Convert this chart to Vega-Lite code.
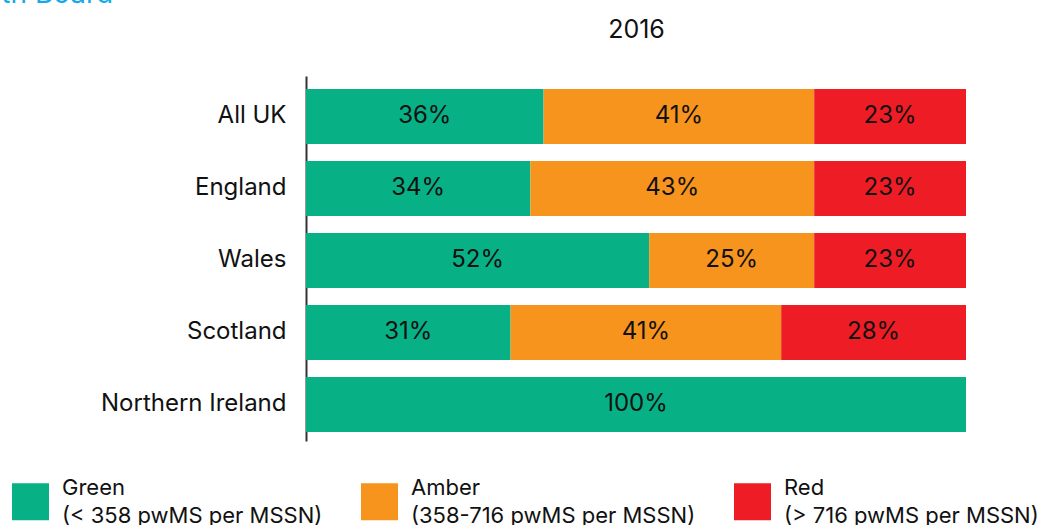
{
  "$schema": "https://vega.github.io/schema/vega-lite/v6.json",
  "width": 660,
  "height": 365,
  "autosize": {"type": "none"},
  "padding": {"left": 306, "top": 76, "right": 86, "bottom": 84},
  "background": "white",
  "title": {
    "text": "Health Board",
    "anchor": "start",
    "frame": "group",
    "dx": -365,
    "dy": -4,
    "fontSize": 28,
    "fontWeight": "normal",
    "font": "Inter",
    "color": "#17a9e5"
  },
  "config": {
    "view": {"stroke": null},
    "font": "Inter"
  },
  "data": {
    "values": [
      {"region": "All UK", "rating": "Green", "ord": 1, "pct": 0.36},
      {"region": "All UK", "rating": "Amber", "ord": 2, "pct": 0.41},
      {"region": "All UK", "rating": "Red", "ord": 3, "pct": 0.23},
      {"region": "England", "rating": "Green", "ord": 1, "pct": 0.34},
      {"region": "England", "rating": "Amber", "ord": 2, "pct": 0.43},
      {"region": "England", "rating": "Red", "ord": 3, "pct": 0.23},
      {"region": "Wales", "rating": "Green", "ord": 1, "pct": 0.52},
      {"region": "Wales", "rating": "Amber", "ord": 2, "pct": 0.25},
      {"region": "Wales", "rating": "Red", "ord": 3, "pct": 0.23},
      {"region": "Scotland", "rating": "Green", "ord": 1, "pct": 0.31},
      {"region": "Scotland", "rating": "Amber", "ord": 2, "pct": 0.41},
      {"region": "Scotland", "rating": "Red", "ord": 3, "pct": 0.28},
      {"region": "Northern Ireland", "rating": "Green", "ord": 1, "pct": 1.0}
    ]
  },
  "transform": [
    {"stack": "pct", "groupby": ["region"], "sort": [{"field": "ord"}], "as": ["x0", "x1"]},
    {"calculate": "(datum.x0 + datum.x1) / 2", "as": "xm"}
  ],
  "encoding": {
    "y": {
      "field": "region",
      "type": "nominal",
      "sort": ["All UK", "England", "Wales", "Scotland", "Northern Ireland"],
      "scale": {"paddingInner": 0.236, "paddingOuter": 0.153, "align": 0.59},
      "axis": {
        "title": null,
        "ticks": false,
        "labelFontSize": 24,
        "labelColor": "#111111",
        "labelPadding": 20,
        "labelLimit": 0,
        "domainColor": "#333333",
        "domainWidth": 2,
        "grid": false
      }
    }
  },
  "layer": [
    {
      "mark": {"type": "bar"},
      "encoding": {
        "x": {
          "field": "x0",
          "type": "quantitative",
          "scale": {"domain": [0, 1], "nice": false},
          "axis": {
            "orient": "top",
            "title": "2016",
            "titleFontSize": 25,
            "titleFontWeight": "normal",
            "titleColor": "#111111",
            "titlePadding": 34,
            "labels": false,
            "ticks": false,
            "domain": false,
            "grid": false
          }
        },
        "x2": {"field": "x1"},
        "color": {
          "field": "rating",
          "type": "nominal",
          "scale": {"domain": ["Green", "Amber", "Red"], "range": ["#08b086", "#f7941e", "#ee1d25"]},
          "legend": {
            "orient": "none",
            "legendX": -294,
            "legendY": 407,
            "direction": "horizontal",
            "columns": 3,
            "columnPadding": 38,
            "title": null,
            "symbolType": "square",
            "symbolSize": 1369,
            "symbolStrokeWidth": 0,
            "symbolOpacity": 1,
            "labelFontSize": 22,
            "labelColor": "#111111",
            "labelLimit": 0,
            "labelOffset": 13,
            "labelExpr": "datum.label == 'Green' ? ['Green', '(< 358 pwMS per MSSN)'] : datum.label == 'Amber' ? ['Amber', '(358-716 pwMS per MSSN)'] : ['Red', '(> 716 pwMS per MSSN)']",
            "encode": {"labels": {"update": {"lineHeight": {"value": 28}, "dy": {"value": -14}}}}
          }
        }
      }
    },
    {
      "mark": {"type": "text", "fontSize": 24, "color": "#111111", "baseline": "middle", "align": "center"},
      "encoding": {
        "x": {"field": "xm", "type": "quantitative"},
        "text": {"field": "pct", "type": "quantitative", "format": ".0%"}
      }
    }
  ]
}
